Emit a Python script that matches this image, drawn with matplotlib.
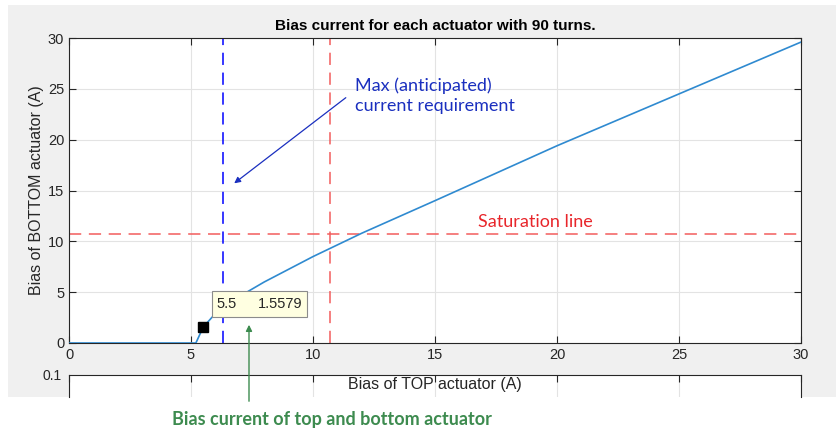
import numpy as np
import matplotlib
matplotlib.use("Agg")
import matplotlib.pyplot as plt
from matplotlib.patches import Rectangle

# bias current curve
top_bias = [0, 5.2, 5.5, 6, 7, 8, 10, 12, 15, 20, 25, 30]
bottom_bias = [0, 0, 1.56, 2.9, 4.6, 6.0, 8.5, 10.8, 14.0, 19.4, 24.5, 29.6]

max_current = 6.3        # blue dashed vertical
saturation = 10.7        # red dashed lines
tip_x, tip_y = 5.5, 1.5579

xticks = [0, 5, 10, 15, 20, 25, 30]
yticks = [0, 5, 10, 15, 20, 25, 30]

W, H = 836, 433
plt.rcParams['font.family'] = ['Liberation Sans', 'DejaVu Sans']

fig = plt.figure(figsize=(W / 100, H / 100), dpi=100)
fig.patch.set_facecolor('white')
fig.patches.append(Rectangle((8 / W, 1 - 397 / H), 1 - 8 / W, (397 - 5) / H,
                             transform=fig.transFigure, facecolor='#f0f0f0',
                             edgecolor='none', zorder=-10))


def px_axes(left, top, right, bottom):
    return fig.add_axes([left / W, 1 - bottom / H, (right - left) / W, (bottom - top) / H])


tick_color = '#262626'
grid_color = '#e3e3e3'

# lower (cropped) axes
ax2 = px_axes(69, 375, 801, 397)
ax2.set_xlim(0, 30)
ax2.set_ylim(0.09, 0.1)
ax2.set_xticks(xticks)
ax2.set_yticks([0.1])
ax2.set_yticklabels(['0.1'])
ax2.tick_params(axis='x', which='both', direction='in', top=True, bottom=False,
                labelbottom=False, length=5, color=tick_color)
ax2.tick_params(axis='y', direction='in', length=0, labelsize=10, labelcolor=tick_color, pad=5)
ax2.grid(True, axis='x', color=grid_color, linewidth=0.8)
ax2.spines['bottom'].set_visible(False)
for s in ['top', 'left', 'right']:
    ax2.spines[s].set_color(tick_color)
    ax2.spines[s].set_linewidth(0.8)

# main axes
ax = px_axes(69, 38, 801, 343)
ax.set_xlim(0, 30)
ax.set_ylim(0, 30)
ax.set_xticks(xticks)
ax.set_yticks(yticks)
ax.tick_params(direction='in', top=True, right=True, length=5, color=tick_color,
               labelcolor=tick_color, labelsize=10.5)
ax.grid(True, color=grid_color, linewidth=0.8)
ax.set_axisbelow(True)
for s in ax.spines.values():
    s.set_color(tick_color)
    s.set_linewidth(0.8)

ax.plot(top_bias, bottom_bias, color='#2f8ad0', linewidth=1.2, zorder=3)
ax.axvline(max_current, color='#0000ff', linestyle=(0, (8, 5)), linewidth=1.1, zorder=2)
ax.axvline(saturation, color='#f25c5c', linestyle=(0, (8, 5)), linewidth=1.1, zorder=2)
ax.axhline(saturation, color='#f25c5c', linestyle=(0, (8, 5)), linewidth=1.1, zorder=2)

ax.set_title('Bias current for each actuator with 90 turns.', fontsize=11,
             fontweight='bold', color='black', pad=6)
ax.set_ylabel('Bias of BOTTOM actuator (A)', fontsize=11.5, color=tick_color, labelpad=3)
ax.set_xlabel('Bias of TOP actuator (A)', fontsize=11.5, color=tick_color, labelpad=11)
ax.xaxis.label.set_zorder(20)

# data tip
ax.plot([tip_x], [tip_y], marker='s', color='black', markersize=7, zorder=6, clip_on=False)
ax.add_patch(Rectangle((5.85, 2.55), 3.9, 2.55, facecolor='#ffffe1', edgecolor='#8c8c8c',
                       linewidth=0.8, zorder=5))
ax.text(6.05, 3.8, f'{tip_x:g}', fontsize=10.5, va='center', ha='left', color=tick_color, zorder=6)
ax.text(9.55, 3.8, f'{tip_y:.4f}', fontsize=10.5, va='center', ha='right', color=tick_color, zorder=6)

# annotations (Calibri-like font)
note_font = ['Lato', 'DejaVu Sans']
ax.annotate('', xy=(232, H - 185), xycoords='figure pixels',
            xytext=(348, H - 96), textcoords='figure pixels',
            arrowprops=dict(arrowstyle='-|>', color='#1a2fbf', lw=0.9, mutation_scale=9))
fig.text(355 / W, 1 - 77 / H, 'Max (anticipated)\ncurrent requirement', color='#1a2fbf',
         fontsize=13, family=note_font, va='top', ha='left', linespacing=1.35)
fig.text(478 / W, 1 - 222 / H, 'Saturation line', color='#e8262b', fontsize=13,
         family=note_font, va='center', ha='left')

ax.annotate('', xy=(249, H - 322), xycoords='figure pixels',
            xytext=(249, H - 404), textcoords='figure pixels',
            arrowprops=dict(arrowstyle='-|>', color='#3d8b4f', lw=1.0, mutation_scale=9),
            annotation_clip=False)
fig.text(332 / W, 1 - 419 / H, 'Bias current of top and bottom actuator', color='#3d8b4f',
         fontsize=13, fontweight='bold', family=note_font, va='center', ha='center')

fig.savefig('out.png', dpi=100, facecolor=fig.get_facecolor())
